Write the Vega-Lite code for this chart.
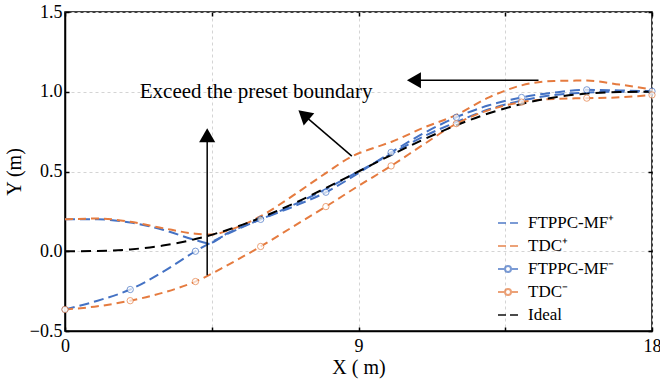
{
  "$schema": "https://vega.github.io/schema/vega-lite/v6.json",
  "width": 587,
  "height": 319,
  "autosize": "none",
  "padding": {"left": 65, "top": 12, "right": 8, "bottom": 54},
  "background": "white",
  "config": {
    "font": "Liberation Serif",
    "view": {"stroke": "black", "strokeWidth": 1.5},
    "axis": {
      "labelFont": "Liberation Serif", "labelFontSize": 18, "labelColor": "black",
      "titleFont": "Liberation Serif", "titleFontSize": 20, "titleFontWeight": "normal", "titleColor": "black",
      "domainColor": "black", "domainWidth": 1.5, "tickColor": "black", "tickSize": -4, "tickWidth": 1.5,
      "gridColor": "#d4d4d4", "gridDash": [3, 3], "gridWidth": 1
    },
    "legend": {"labelFont": "Liberation Serif", "labelFontSize": 17, "labelColor": "black", "labelLimit": 300}
  },
  "datasets": {
    "lines": [
      {"series": "FTPPC-MF⁺", "x": 0, "y": 0.2}, {"series": "FTPPC-MF⁺", "x": 1, "y": 0.2}, {"series": "FTPPC-MF⁺", "x": 2, "y": 0.18}, {"series": "FTPPC-MF⁺", "x": 3, "y": 0.135}, {"series": "FTPPC-MF⁺", "x": 4, "y": 0.07}, {"series": "FTPPC-MF⁺", "x": 4.4, "y": 0.05}, {"series": "FTPPC-MF⁺", "x": 5, "y": 0.115}, {"series": "FTPPC-MF⁺", "x": 6, "y": 0.2}, {"series": "FTPPC-MF⁺", "x": 7, "y": 0.29}, {"series": "FTPPC-MF⁺", "x": 8, "y": 0.39}, {"series": "FTPPC-MF⁺", "x": 9, "y": 0.5}, {"series": "FTPPC-MF⁺", "x": 10, "y": 0.61}, {"series": "FTPPC-MF⁺", "x": 11, "y": 0.72}, {"series": "FTPPC-MF⁺", "x": 12, "y": 0.81}, {"series": "FTPPC-MF⁺", "x": 13, "y": 0.89}, {"series": "FTPPC-MF⁺", "x": 14, "y": 0.945}, {"series": "FTPPC-MF⁺", "x": 15, "y": 0.98}, {"series": "FTPPC-MF⁺", "x": 16, "y": 0.995}, {"series": "FTPPC-MF⁺", "x": 17, "y": 1.0}, {"series": "FTPPC-MF⁺", "x": 18, "y": 1.0},
      {"series": "TDC⁺", "x": 0, "y": 0.2}, {"series": "TDC⁺", "x": 1, "y": 0.205}, {"series": "TDC⁺", "x": 2, "y": 0.185}, {"series": "TDC⁺", "x": 3, "y": 0.145}, {"series": "TDC⁺", "x": 4, "y": 0.11}, {"series": "TDC⁺", "x": 4.5, "y": 0.105}, {"series": "TDC⁺", "x": 5, "y": 0.13}, {"series": "TDC⁺", "x": 6, "y": 0.22}, {"series": "TDC⁺", "x": 7, "y": 0.35}, {"series": "TDC⁺", "x": 8, "y": 0.49}, {"series": "TDC⁺", "x": 8.8, "y": 0.595}, {"series": "TDC⁺", "x": 9.5, "y": 0.65}, {"series": "TDC⁺", "x": 10, "y": 0.685}, {"series": "TDC⁺", "x": 11, "y": 0.775}, {"series": "TDC⁺", "x": 12, "y": 0.855}, {"series": "TDC⁺", "x": 13, "y": 0.965}, {"series": "TDC⁺", "x": 14, "y": 1.04}, {"series": "TDC⁺", "x": 15, "y": 1.068}, {"series": "TDC⁺", "x": 16, "y": 1.07}, {"series": "TDC⁺", "x": 17, "y": 1.045}, {"series": "TDC⁺", "x": 18, "y": 1.015},
      {"series": "FTPPC-MF⁻", "x": 0, "y": -0.365}, {"series": "FTPPC-MF⁻", "x": 1, "y": -0.31}, {"series": "FTPPC-MF⁻", "x": 2, "y": -0.24}, {"series": "FTPPC-MF⁻", "x": 3, "y": -0.13}, {"series": "FTPPC-MF⁻", "x": 4, "y": 0.0}, {"series": "FTPPC-MF⁻", "x": 5, "y": 0.11}, {"series": "FTPPC-MF⁻", "x": 6, "y": 0.2}, {"series": "FTPPC-MF⁻", "x": 7, "y": 0.28}, {"series": "FTPPC-MF⁻", "x": 8, "y": 0.37}, {"series": "FTPPC-MF⁻", "x": 9, "y": 0.49}, {"series": "FTPPC-MF⁻", "x": 10, "y": 0.62}, {"series": "FTPPC-MF⁻", "x": 11, "y": 0.74}, {"series": "FTPPC-MF⁻", "x": 12, "y": 0.84}, {"series": "FTPPC-MF⁻", "x": 13, "y": 0.915}, {"series": "FTPPC-MF⁻", "x": 14, "y": 0.964}, {"series": "FTPPC-MF⁻", "x": 15, "y": 0.995}, {"series": "FTPPC-MF⁻", "x": 16, "y": 1.012}, {"series": "FTPPC-MF⁻", "x": 17, "y": 1.008}, {"series": "FTPPC-MF⁻", "x": 18, "y": 1.003},
      {"series": "TDC⁻", "x": 0, "y": -0.365}, {"series": "TDC⁻", "x": 1, "y": -0.345}, {"series": "TDC⁻", "x": 2, "y": -0.31}, {"series": "TDC⁻", "x": 3, "y": -0.26}, {"series": "TDC⁻", "x": 4, "y": -0.19}, {"series": "TDC⁻", "x": 5, "y": -0.085}, {"series": "TDC⁻", "x": 6, "y": 0.03}, {"series": "TDC⁻", "x": 7, "y": 0.155}, {"series": "TDC⁻", "x": 8, "y": 0.28}, {"series": "TDC⁻", "x": 9, "y": 0.41}, {"series": "TDC⁻", "x": 10, "y": 0.535}, {"series": "TDC⁻", "x": 11, "y": 0.67}, {"series": "TDC⁻", "x": 12, "y": 0.8}, {"series": "TDC⁻", "x": 13, "y": 0.885}, {"series": "TDC⁻", "x": 14, "y": 0.935}, {"series": "TDC⁻", "x": 15, "y": 0.955}, {"series": "TDC⁻", "x": 16, "y": 0.96}, {"series": "TDC⁻", "x": 17, "y": 0.965}, {"series": "TDC⁻", "x": 18, "y": 0.98},
      {"series": "Ideal", "x": 0, "y": 0.0}, {"series": "Ideal", "x": 1, "y": 0.0016}, {"series": "Ideal", "x": 2, "y": 0.0115}, {"series": "Ideal", "x": 3, "y": 0.0355}, {"series": "Ideal", "x": 4, "y": 0.0763}, {"series": "Ideal", "x": 5, "y": 0.135}, {"series": "Ideal", "x": 6, "y": 0.2099}, {"series": "Ideal", "x": 7, "y": 0.2985}, {"series": "Ideal", "x": 8, "y": 0.3967}, {"series": "Ideal", "x": 9, "y": 0.5}, {"series": "Ideal", "x": 10, "y": 0.6033}, {"series": "Ideal", "x": 11, "y": 0.7015}, {"series": "Ideal", "x": 12, "y": 0.7901}, {"series": "Ideal", "x": 13, "y": 0.865}, {"series": "Ideal", "x": 14, "y": 0.9237}, {"series": "Ideal", "x": 15, "y": 0.9645}, {"series": "Ideal", "x": 16, "y": 0.9885}, {"series": "Ideal", "x": 17, "y": 0.9984}, {"series": "Ideal", "x": 18, "y": 1.0}
    ],
    "markers": [
      {"series": "FTPPC-MF⁻", "x": 0, "y": -0.365}, {"series": "FTPPC-MF⁻", "x": 2, "y": -0.24}, {"series": "FTPPC-MF⁻", "x": 4, "y": 0.0}, {"series": "FTPPC-MF⁻", "x": 6, "y": 0.2}, {"series": "FTPPC-MF⁻", "x": 8, "y": 0.37}, {"series": "FTPPC-MF⁻", "x": 10, "y": 0.62}, {"series": "FTPPC-MF⁻", "x": 12, "y": 0.84}, {"series": "FTPPC-MF⁻", "x": 14, "y": 0.964}, {"series": "FTPPC-MF⁻", "x": 16, "y": 1.012}, {"series": "FTPPC-MF⁻", "x": 18, "y": 1.003},
      {"series": "TDC⁻", "x": 0, "y": -0.365}, {"series": "TDC⁻", "x": 2, "y": -0.31}, {"series": "TDC⁻", "x": 4, "y": -0.19}, {"series": "TDC⁻", "x": 6, "y": 0.03}, {"series": "TDC⁻", "x": 8, "y": 0.28}, {"series": "TDC⁻", "x": 10, "y": 0.535}, {"series": "TDC⁻", "x": 12, "y": 0.8}, {"series": "TDC⁻", "x": 14, "y": 0.935}, {"series": "TDC⁻", "x": 16, "y": 0.96}, {"series": "TDC⁻", "x": 18, "y": 0.98}
    ],
    "series": [
      {"series": "FTPPC-MF⁺"}, {"series": "TDC⁺"}, {"series": "FTPPC-MF⁻"}, {"series": "TDC⁻"}, {"series": "Ideal"}
    ],
    "arrows": [
      {"arrow": "up", "x": 4.36, "y": -0.15, "x2": 4.36, "y2": 0.7},
      {"arrow": "diag", "x": 8.795, "y": 0.596, "x2": 7.32, "y2": 0.855},
      {"arrow": "left", "x": 14.52, "y": 1.072, "x2": 10.7, "y2": 1.072}
    ],
    "heads": [
      {"arrow": "up", "x": 4.36, "y": 0.727},
      {"arrow": "diag", "x": 7.32, "y": 0.855},
      {"arrow": "left", "x": 10.7, "y": 1.072}
    ],
    "notes": [
      {"label": "Exceed the preset boundary", "x": 5.86, "y": 1.0}
    ]
  },
  "layer": [
    {
      "data": {"name": "lines"},
      "mark": {"type": "line", "interpolate": "monotone", "strokeWidth": 2},
      "encoding": {
        "x": {"field": "x", "type": "quantitative", "scale": {"domain": [0, 18], "nice": false, "zero": false},
              "axis": {"values": [0, 4.5, 9, 13.5, 18], "labelExpr": "datum.value % 9 === 0 ? datum.label : ''", "title": "X ( m)", "titlePadding": 2, "labelPadding": 10, "grid": true, "labelFlush": false}},
        "y": {"field": "y", "type": "quantitative", "scale": {"domain": [-0.5, 1.5], "nice": false, "zero": false},
              "axis": {"values": [-0.5, 0, 0.5, 1, 1.5], "format": ".1f", "title": "Y (m)", "titlePadding": 5, "labelPadding": 7, "grid": true, "labelFlush": false}},
        "stroke": {"field": "series", "type": "nominal", "legend": null,
                  "scale": {"domain": ["Ideal", "FTPPC-MF⁺", "TDC⁺", "FTPPC-MF⁻", "TDC⁻"], "range": ["#000000", "#4472C4", "#E57B3F", "#4472C4", "#E57B3F"]}},
        "strokeDash": {"field": "series", "type": "nominal", "legend": null,
                  "scale": {"domain": ["Ideal", "FTPPC-MF⁺", "TDC⁺", "FTPPC-MF⁻", "TDC⁻"], "range": [[10, 6], [10, 5], [8, 5], [10, 5], [8, 5]]}}
      }
    },
    {
      "data": {"name": "markers"},
      "mark": {"type": "point", "filled": false, "fill": "white", "size": 40, "strokeWidth": 1, "shape": "circle"},
      "encoding": {
        "x": {"field": "x", "type": "quantitative", "scale": {"domain": [0, 18], "nice": false, "zero": false}, "axis": null},
        "y": {"field": "y", "type": "quantitative", "scale": {"domain": [-0.5, 1.5], "nice": false, "zero": false}, "axis": null},
        "stroke": {"field": "series", "type": "nominal", "legend": null}
      }
    },
    {
      "data": {"name": "series"},
      "mark": {"type": "point", "filled": false, "strokeWidth": 2, "clip": true},
      "encoding": {
        "x": {"datum": -10, "type": "quantitative", "axis": null},
        "y": {"datum": -10, "type": "quantitative", "axis": null},
        "color": {"field": "series", "type": "nominal",
                  "scale": {"domain": ["FTPPC-MF⁺", "TDC⁺", "FTPPC-MF⁻", "TDC⁻", "Ideal"], "range": ["#4472C4", "#E57B3F", "#4472C4", "#E57B3F", "#000000"]},
                  "legend": {"orient": "none", "legendX": 432, "legendY": 200, "title": null, "symbolSize": 400, "symbolStrokeWidth": 2, "rowPadding": 4, "labelOffset": 9,
                             "labelFont": "Liberation Serif", "labelFontSize": 17, "labelColor": "black", "labelLimit": 300}},
        "shape": {"field": "series", "type": "nominal",
                  "scale": {"domain": ["FTPPC-MF⁺", "TDC⁺", "FTPPC-MF⁻", "TDC⁻", "Ideal"],
                            "range": ["M-1,0H-0.2M0.2,0H1", "M-1,0H-0.2M0.2,0H1", "M-1,0H-0.3M0.3,0H1M0.3,0A0.3,0.3,0,1,1,-0.3,0A0.3,0.3,0,1,1,0.3,0", "M-1,0H-0.3M0.3,0H1M0.3,0A0.3,0.3,0,1,1,-0.3,0A0.3,0.3,0,1,1,0.3,0", "M-1,0H-0.2M0.2,0H1"]},
                  "legend": {"orient": "none", "legendX": 432, "legendY": 200, "title": null, "symbolSize": 400, "symbolStrokeWidth": 2, "rowPadding": 4, "labelOffset": 9,
                             "labelFont": "Liberation Serif", "labelFontSize": 17, "labelColor": "black", "labelLimit": 300}}
      }
    },
    {
      "data": {"name": "arrows"},
      "mark": {"type": "rule", "color": "black", "strokeWidth": 1.5},
      "encoding": {
        "x": {"field": "x", "type": "quantitative", "scale": {"domain": [0, 18], "nice": false, "zero": false},
              "axis": {"orient": "top", "values": [0, 4.5, 9, 13.5, 18], "labels": false, "title": null, "grid": false, "domain": false}},
        "y": {"field": "y", "type": "quantitative", "scale": {"domain": [-0.5, 1.5], "nice": false, "zero": false},
              "axis": {"orient": "right", "values": [-0.5, 0, 0.5, 1, 1.5], "labels": false, "title": null, "grid": false, "domain": false}},
        "x2": {"field": "x2"},
        "y2": {"field": "y2"}
      }
    },
    {
      "data": {"name": "heads"},
      "transform": [{"filter": "datum.arrow === 'up'"}],
      "mark": {"type": "point", "shape": "triangle-up", "filled": true, "color": "black", "size": 260, "opacity": 1},
      "encoding": {
        "x": {"field": "x", "type": "quantitative", "axis": null},
        "y": {"field": "y", "type": "quantitative", "axis": null}
      }
    },
    {
      "data": {"name": "heads"},
      "transform": [{"filter": "datum.arrow === 'diag'"}],
      "mark": {"type": "point", "shape": "triangle-up", "filled": true, "color": "black", "size": 260, "opacity": 1, "angle": 311},
      "encoding": {
        "x": {"field": "x", "type": "quantitative", "axis": null},
        "y": {"field": "y", "type": "quantitative", "axis": null}
      }
    },
    {
      "data": {"name": "heads"},
      "transform": [{"filter": "datum.arrow === 'left'"}],
      "mark": {"type": "point", "shape": "triangle-up", "filled": true, "color": "black", "size": 260, "opacity": 1, "angle": 270},
      "encoding": {
        "x": {"field": "x", "type": "quantitative", "axis": null},
        "y": {"field": "y", "type": "quantitative", "axis": null}
      }
    },
    {
      "data": {"name": "notes"},
      "mark": {"type": "text", "font": "Liberation Serif", "fontSize": 21, "align": "center", "baseline": "middle", "color": "black"},
      "encoding": {
        "x": {"field": "x", "type": "quantitative", "axis": null},
        "y": {"field": "y", "type": "quantitative", "axis": null},
        "text": {"field": "label"}
      }
    }
  ],
  "resolve": {"axis": {"x": "independent", "y": "independent"}}
}
